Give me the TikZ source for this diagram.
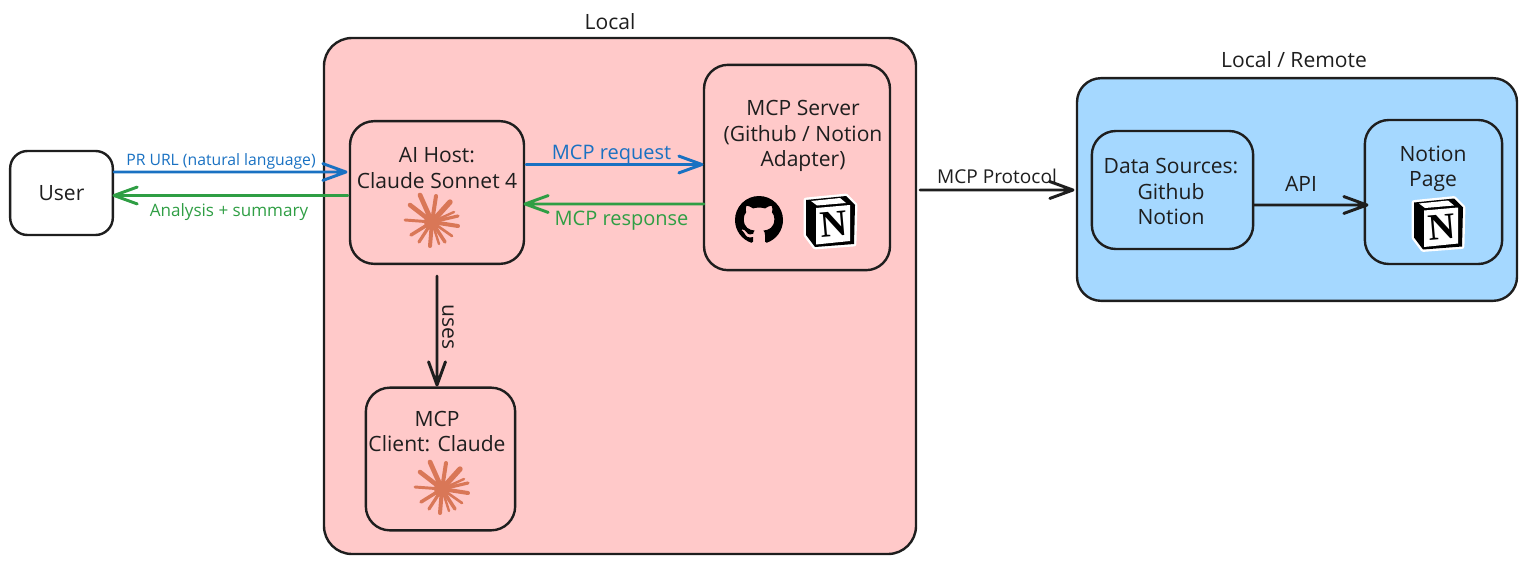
\documentclass[tikz,border=0pt]{standalone}
\usepackage{fontspec}
\setmainfont{Open Sans}
\newfontfamily\iconserif{Liberation Serif}[BoldFont={Liberation Serif Bold}]
\usetikzlibrary{calc,svg.path}
\definecolor{ink}{HTML}{1E1E1E}
\definecolor{pinkfill}{HTML}{FFC9C9}
\definecolor{bluefill}{HTML}{A5D8FF}
\definecolor{bluearrow}{HTML}{1971C2}
\definecolor{greenarrow}{HTML}{2F9E44}
\definecolor{claude}{HTML}{D97757}
\newcommand{\fs}[1]{\fontsize{#1}{19pt}\selectfont}
\tikzset{
  x=0.75pt,y=-0.75pt,
  box/.style={draw=ink,line width=1.8pt,rounded corners=18pt,inner sep=0pt,align=center},
  label text/.style={text=ink,font=\fs{15.8},align=center,inner sep=0pt},
  conn text/.style={inner sep=0pt},
  barb/.style={line width=2.2pt,line cap=round,line join=round,
    to path={(\tikztostart) -- (\tikztotarget)
      ($(\tikztotarget)!18.5pt!20:(\tikztostart)$) -- (\tikztotarget) -- ($(\tikztotarget)!18.5pt!-20:(\tikztostart)$)}},
  pics/claudestar/.style={code={
    \foreach \dx/\dy/\w in {-12/-27/3.6,4/-26/3.0,18/-20/4.0,22/-10/1.8,26/-6/2.4,26/4/3.0,20/14/2.0,13/20/2.6,
      -2/24/3.0,-13/20/2.4,-21/13/2.6,-27/-2/2.2,-22/-17/3.4,7/22/1.8}
      \draw[draw=claude,line cap=round,line width=\w pt] (0,0) -- (\dx,\dy);
    \fill[claude] (0,0) circle[radius=6pt];
  }},
  pics/notionicon/.style={code={
    \draw[fill=white,draw=white,line width=3.6pt,line join=round]
      (-24,-21) -- (16,-25) -- (25,-16) -- (24,23) -- (-15,26) -- (-24,14) -- cycle;
    \fill[black] (-24,-21) -- (16,-25) -- (25,-16) -- (24,23) -- (-15,26) -- (-24,14) -- cycle;
    \fill[white] (-14,-13) -- (20,-16) -- (20,20) -- (-14,23.5) -- cycle;
    \fill[white] (-19,-20) -- (10,-23) -- (16,-18) -- (-13,-15.5) -- cycle;
    \node[inner sep=0pt,rotate=5,font=\iconserif\bfseries\fs{28},text=black] at (3.5,3.5) {N};
  }},
  pics/githubicon/.style={code={
    \fill[black,xscale=2.25,yscale=-2.25,xshift=-8pt,yshift=-8pt] svg {M 8 0 C 3.58 0 0 3.58 0 8 c 0 3.54 2.29 6.53 5.47 7.59 c 0.4 0.07 0.55 -0.17 0.55 -0.38 c 0 -0.19 -0.01 -0.82 -0.01 -1.49 c -2.01 0.37 -2.53 -0.49 -2.69 -0.94 c -0.09 -0.23 -0.48 -0.94 -0.82 -1.13 c -0.28 -0.15 -0.68 -0.52 -0.01 -0.53 c 0.63 -0.01 1.08 0.58 1.23 0.82 c 0.72 1.21 1.87 0.87 2.33 0.66 c 0.07 -0.52 0.28 -0.87 0.51 -1.07 c -1.78 -0.2 -3.64 -0.89 -3.64 -3.95 c 0 -0.87 0.31 -1.59 0.82 -2.15 c -0.08 -0.2 -0.36 -1.02 0.08 -2.12 c 0 0 0.67 -0.21 2.2 0.82 c 0.64 -0.18 1.32 -0.27 2 -0.27 c 0.68 0 1.36 0.09 2 0.27 c 1.53 -1.04 2.2 -0.82 2.2 -0.82 c 0.44 1.1 0.16 1.92 0.08 2.12 c 0.51 0.56 0.82 1.27 0.82 2.15 c 0 3.07 -1.87 3.75 -3.65 3.95 c 0.29 0.25 0.54 0.73 0.54 1.48 c 0 1.07 -0.01 1.93 -0.01 2.2 c 0 0.21 0.15 0.46 0.55 0.38 A 8.013 8.013 0 0 0 16 8 c 0 -4.42 -3.58 -8 -8 -8 z};
  }}
}
\begin{document}
\begin{tikzpicture}
\useasboundingbox (0,0) rectangle (1526,564);
% containers
\node[box,fill=pinkfill,minimum width=444pt,minimum height=387pt,rounded corners=21pt] (local) at (620,296) {};
\node[box,fill=bluefill,minimum width=330pt,minimum height=167pt] (remote) at (1297,189.5) {};
\node[label text] (localtitle) at (610,22) {Local};
\node[label text] (remotetitle) at (1294,60) {Local / Remote};
% boxes
\node[box,minimum width=77pt,minimum height=63pt,rounded corners=13pt,fill=white] (user) at (61.5,193) {};
\node[label text] (usertext) at (61.5,193) {User};
\node[box,fill=pinkfill,minimum width=130.5pt,minimum height=107pt] (host) at (437,192.5) {};
\node[label text] (hosttext) at (437,168) {AI Host:\\Claude Sonnet 4};
\node[box,fill=pinkfill,minimum width=139.5pt,minimum height=154pt] (server) at (797,167.5) {};
\node[label text] (servertext) at (803,136) {MCP Server\\(Github / Notion\\Adapter)};
\node[box,fill=pinkfill,minimum width=112pt,minimum height=107pt] (client) at (440.5,459) {};
\node[label text] (clienttext) at (437,431.5) {MCP\\Client: Claude};
\node[box,fill=bluefill,minimum width=121pt,minimum height=88.5pt] (sources) at (1172.5,190) {};
\node[label text] (sourcestext) at (1171,191.5) {Data Sources:\\Github\\Notion};
\node[box,fill=bluefill,minimum width=103pt,minimum height=108pt] (page) at (1433.5,192) {};
\node[label text] (pagetext) at (1433,169) {Notion\\Page};
% icons
\pic at (432,222) {claudestar};
\pic at (442,489) {claudestar};
\pic at (759,220) {githubicon};
\pic at (830,221) {notionicon};
\pic at (1438,223.5) {notionicon};
% connector ends
\coordinate (pra) at (user.east |- 0,172);
\coordinate (prb) at (346,172);
\coordinate (ana) at (348,195.5);
\coordinate (anb) at (user.east |- 0,195.5);
\coordinate (rqa) at (526,164.5);
\coordinate (rqb) at (702,164.5);
\coordinate (rsa) at (704,204);
\coordinate (rsb) at (525,204);
\coordinate (usa) at (437,276);
\coordinate (usb) at (437,385);
\coordinate (pta) at (920,190);
\coordinate (ptb) at (1073,190);
\coordinate (apa) at (sources.east |- 0,205);
\coordinate (apb) at (1367,205);
% connectors
\draw[barb,draw=bluearrow] (pra) to (prb);
\draw[barb,draw=greenarrow] (ana) to (anb);
\draw[barb,draw=bluearrow] (rqa) to (rqb);
\draw[barb,draw=greenarrow] (rsa) to (rsb);
\draw[barb,draw=ink] (usa) to (usb);
\draw[barb,draw=ink] (pta) to (ptb);
\draw[barb,draw=ink] (apa) to (apb);
% labels
\node[conn text,font=\fs{11.8},text=bluearrow] (l1) at (221,161) {PR URL (natural language)};
\node[conn text,font=\fs{12.8},text=greenarrow] (l2) at (229,212) {Analysis + summary};
\node[conn text,font=\fs{15},text=bluearrow] (l3) at (611.5,155) {MCP request};
\node[conn text,font=\fs{15},text=greenarrow] (l4) at (621.5,221) {MCP response};
\node[conn text,font=\fs{15.8},text=ink,rotate=-90] (l5) at (448,327) {uses};
\node[conn text,font=\fs{14.3},text=ink] (l6) at (997,176) {MCP Protocol};
\node[conn text,font=\fs{15.8},text=ink] (l7) at (1301,184) {API};
\end{tikzpicture}
\end{document}
